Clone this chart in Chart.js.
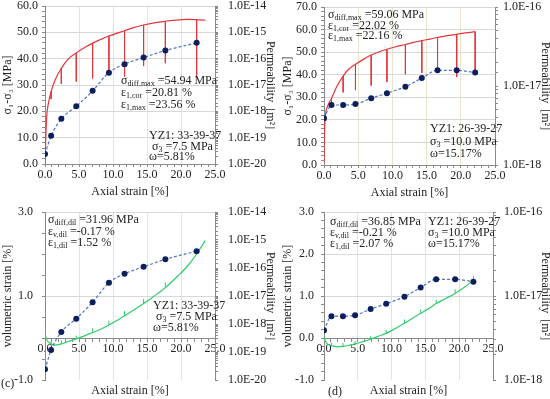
<!DOCTYPE html>
<html>
<head>
<meta charset="utf-8">
<script src="https://cdn.jsdelivr.net/npm/chart.js@4"></script>
<style>
body { margin: 0; background: #fff; }
#wrap { position: relative; width: 550px; height: 399px; font-family: 'Liberation Serif', 'Times New Roman', serif; color: #222; overflow: hidden; }
canvas { position: absolute; }
.note { position: absolute; font-size: 12px; line-height: 11.5px; white-space: nowrap; }
.note sub { font-size: 8px; vertical-align: -2px; line-height: 0; }
</style>
</head>
<body>
<div id="wrap">
  <canvas id="ca" width="275" height="200" style="left:0;top:0"></canvas>
  <canvas id="cb" width="275" height="200" style="left:275px;top:0"></canvas>
  <canvas id="cc" width="275" height="199" style="left:0;top:200px"></canvas>
  <canvas id="cd" width="275" height="199" style="left:275px;top:200px"></canvas>

  <div class="note" style="left:121px;top:74px;line-height:12px">σ<sub>diff,max</sub> =54.94 MPa<br>ε<sub>1,cor</sub> =20.81 %<br>ε<sub>1,max</sub> =23.56 %</div>
  <div class="note" style="left:149px;top:130px;line-height:10.5px">YZ1: 33-39-37<br>&nbsp;σ<sub>3</sub> =7.5 MPa<br>ω=5.81%</div>

  <div class="note" style="left:328px;top:9px;line-height:10.5px">σ<sub>diff,max</sub> =59.06 MPa<br>ε<sub>1,cor</sub> =22.02 %<br>ε<sub>1,max</sub> =22.16 %</div>
  <div class="note" style="left:430px;top:122px;line-height:12.5px">YZ1: 26-39-27<br>σ<sub>3</sub> =10.0 MPa<br>ω=15.17%</div>

  <div class="note" style="left:48px;top:214px">σ<sub>diff,dil</sub> =31.96 MPa<br>ε<sub>v,dil</sub> =-0.17 %<br>ε<sub>1,dil</sub> =1.52 %</div>
  <div class="note" style="left:153px;top:300px;line-height:11px">YZ1: 33-39-37<br>&nbsp;σ<sub>3</sub> =7.5 MPa<br>ω=5.81%</div>

  <div class="note" style="left:330px;top:216px;line-height:11px">σ<sub>diff,dil</sub> =36.85 MPa<br>ε<sub>v,dil</sub> =-0.21 %<br>ε<sub>1,dil</sub> =2.07 %</div>
  <div class="note" style="left:428px;top:216px;line-height:11px">YZ1: 26-39-27<br>σ<sub>3</sub> =10.0 MPa<br>ω=15.17%</div>

  <div class="note" style="left:1px;top:378px">(c)</div>
  <div class="note" style="left:328px;top:386px">(d)</div>
</div>

<script>
// Sample YZ1: 33-39-37 (panels a, c)
const permStrainA = [0, 0.9, 2.4, 4.6, 7.0, 9.4, 11.7, 14.5, 17.7, 22.3];
const permA = [2.4e-20, 1.17e-19, 5.2e-19, 1.55e-18, 6.0e-18, 2.95e-17, 6.2e-17, 1.1e-16, 2.04e-16, 3.98e-16];
const stressStrainA = [0, 0.1, 0.25, 0.5, 0.9, 1.5, 2.4, 3.4, 4.6, 5.9, 7.0, 8.2, 9.4, 10.5, 11.7, 13.0, 14.5, 16.0, 17.7, 19.2, 20.8, 22.3, 23.56];
const stressA = [0.4, 9, 18, 23, 27.5, 32, 36.3, 39.8, 42.2, 44.3, 45.9, 47.3, 48.6, 49.6, 50.6, 51.8, 52.8, 53.6, 54.2, 54.6, 54.94, 54.8, 54.6];
const dropStrainA = [0.9, 2.4, 4.6, 7.0, 9.4, 11.7, 14.5, 17.7, 22.3];
const dropStressA = [24.7, 30.4, 31.3, 32.5, 34.5, 33.2, 37.2, 38.3, 33.5];
const volStrainC = [0, 0.2, 0.5, 0.9, 1.5, 2.4, 3.5, 4.6, 5.8, 7.0, 8.2, 9.4, 10.5, 11.7, 13.0, 14.5, 16.0, 17.7, 19.5, 21.0, 22.3, 23.56];
const volC = [0.1, -0.02, -0.1, -0.14, -0.17, -0.14, -0.08, -0.02, 0.05, 0.13, 0.21, 0.31, 0.41, 0.53, 0.66, 0.82, 0.99, 1.2, 1.47, 1.72, 2.0, 2.32];
const volTickC = [-0.07, -0.05, 0.06, 0.23, 0.41, 0.64, 0.93, 1.32, 2.06];

// Sample YZ1: 26-39-27 (panels b, d)
const permStrainB = [0, 1.1, 2.8, 4.6, 6.9, 9.2, 11.9, 14.3, 16.6, 19.4, 22.1];
const permB = [3.9e-18, 5.75e-18, 5.75e-18, 5.9e-18, 7.0e-18, 8.1e-18, 9.8e-18, 1.26e-17, 1.58e-17, 1.58e-17, 1.48e-17];
const stressStrainB = [0, 0.05, 0.2, 0.5, 1.1, 1.85, 2.8, 3.6, 4.6, 5.75, 6.9, 8.1, 9.2, 10.5, 11.9, 13.1, 14.3, 15.5, 16.6, 18.0, 19.4, 20.7, 22.1];
const stressB = [0.75, 11, 21.4, 25.8, 29.5, 34.7, 39.4, 42.4, 44.6, 46.8, 48.7, 50.2, 51.3, 52.4, 53.4, 54.3, 55.1, 55.8, 56.5, 57.3, 57.9, 58.5, 59.06];
const dropStrainB = [1.1, 2.8, 4.6, 6.9, 9.2, 11.9, 14.3, 16.6, 19.4, 22.1];
const dropStressB = [27.3, 32.2, 33.2, 35.2, 36.8, 40.2, 40.8, 41.7, 39.0, 40.8];
const volStrainD = [0, 0.3, 0.7, 1.1, 2.0, 2.8, 3.8, 4.6, 5.7, 6.9, 8.0, 9.2, 10.5, 11.9, 13.1, 14.3, 15.5, 16.6, 18.0, 19.4, 20.7, 22.1];
const volD = [0.02, -0.1, -0.16, -0.18, -0.21, -0.2, -0.17, -0.14, -0.09, -0.03, 0.04, 0.11, 0.22, 0.35, 0.47, 0.59, 0.7, 0.82, 0.94, 1.06, 1.2, 1.38];
const volTickD = [-0.11, -0.12, -0.07, 0.05, 0.19, 0.44, 0.68, 0.91, 1.16, 1.47];

const RED = '#e3363b';
const GREEN = '#2ccb68';
const BLUE_LINE = '#5073c6';
const BLUE_DOT = '#0c1f5c';
const AXIS = '#8a8a8a';
const GRIDH = '#d8d8d8';
const GRIDV = '#ebe4cc';
const NONE = 'rgba(0,0,0,0)';

Chart.defaults.font.family = "'Liberation Serif', 'Times New Roman', serif";
Chart.defaults.font.size = 12;
Chart.defaults.color = '#222';

function isMult(v, step) {
    const r = v / step;
    return Math.abs(r - Math.round(r)) < 1e-6;
}

function logLabel(v) {
    const l = Math.log10(v);
    const e = Math.round(l);
    return Math.abs(l - e) < 1e-6 ? '1.0E' + e : '';
}

function pts(xs, ys) {
    return xs.map((x, i) => ({ x: x, y: ys[i] }));
}

// short vertical strokes from the curve to an end value (stress drops / volume ticks)
function strokes(curveX, curveY, atX, ends) {
    const out = [];
    atX.forEach((x, i) => {
        const k = curveX.indexOf(x);
        out.push({ x: x, y: curveY[k] }, { x: x, y: ends[i] }, { x: x, y: null });
    });
    return out;
}

// vertical axes: fixed width, no extra label padding so the plot box sits where the layout puts it
function fixWidth(w) {
    return s => { s.width = w; s.paddingTop = 0; s.paddingBottom = 0; };
}

function xAxis(extra) {
    return Object.assign({
        type: 'linear', min: 0, max: 25,
        ticks: { stepSize: 1, autoSkip: false, maxRotation: 0, padding: 1,
                 callback: v => isMult(v, 5) ? v.toFixed(1) : '' },
        grid: { color: c => (isMult(c.tick.value, 5) && c.tick.value > 0 && c.tick.value < 25) ? GRIDV : NONE,
                tickColor: AXIS, tickLength: 3 },
        border: { color: AXIS }
    }, extra);
}

function leftAxis(o) {
    return {
        type: 'linear', position: 'left', min: o.min, max: o.max,
        ticks: { stepSize: o.minor, autoSkip: false, padding: o.pad,
                 callback: v => isMult(v - o.min, o.major) ? v.toFixed(1) : '' },
        grid: { color: c => (isMult(c.tick.value - o.min, o.major) && c.tick.value > o.min) ? GRIDH : NONE,
                tickColor: AXIS, tickLength: 3 },
        border: { color: AXIS },
        title: { display: true, text: o.title, padding: { top: o.titlePad, bottom: 0 } },
        afterFit: fixWidth(o.width)
    };
}

function rightAxis(o) {
    return {
        type: 'logarithmic', position: 'right', min: o.min, max: o.max,
        ticks: { autoSkip: false, padding: o.pad, callback: logLabel },
        grid: { drawOnChartArea: false, color: AXIS, tickLength: 3 },
        border: { color: AXIS },
        title: { display: true, text: 'Permeability  [m²]', padding: { top: -2, bottom: 0 } },
        afterFit: fixWidth(o.width)
    };
}

function permSet(xs, ys) {
    return {
        data: pts(xs, ys), xAxisID: 'x', yAxisID: 'y2',
        borderColor: BLUE_LINE, borderWidth: 1.2, borderDash: [3, 2],
        pointRadius: 3, pointBackgroundColor: BLUE_DOT, pointBorderColor: BLUE_DOT, pointBorderWidth: 0,
        cubicInterpolationMode: 'monotone'
    };
}

function curveSet(xs, ys, color) {
    return {
        data: pts(xs, ys), xAxisID: 'x', yAxisID: 'y',
        borderColor: color, borderWidth: 1.2, pointRadius: 0,
        cubicInterpolationMode: 'monotone'
    };
}

function strokeSet(data, color) {
    return {
        data: data, xAxisID: 'x', yAxisID: 'y',
        borderColor: color, borderWidth: 1, pointRadius: 0, spanGaps: false, tension: 0
    };
}

function bottomTitle() {
    return {
        type: 'linear', position: 'bottom', min: 0, max: 25,
        ticks: { display: false }, grid: { display: false }, border: { display: false },
        title: { display: true, text: 'Axial strain [%]', padding: { top: 0, bottom: 1 } },
        afterFit: s => { s.height = 19; }
    };
}

function panel(id, top, datasets, scales) {
    new Chart(document.getElementById(id), {
        type: 'line',
        data: { datasets: datasets },
        options: {
            responsive: false,
            animation: false,
            layout: { padding: { top: top, left: 0, right: 0, bottom: 0 } },
            plugins: { legend: { display: false }, tooltip: { enabled: false } },
            scales: scales
        }
    });
}

// (a) stress + permeability
panel('ca', 6, [
    permSet(permStrainA, permA),
    curveSet(stressStrainA, stressA, RED),
    strokeSet(strokes(stressStrainA, stressA, dropStrainA, dropStressA), RED)
], {
    x: xAxis({ title: { display: true, text: 'Axial strain [%]', padding: { top: 0, bottom: 1 } },
               afterFit: s => { s.height = 36; } }),
    y: leftAxis({ min: 0, max: 60, minor: 2, major: 10, pad: 4, width: 45, titlePad: 1, title: 'σ₁-σ₃ [MPa]' }),
    y2: rightAxis({ min: 1e-20, max: 1e-14, pad: 10, width: 60 })
});

// (b) stress + permeability
panel('cb', 7, [
    permSet(permStrainB, permB),
    curveSet(stressStrainB, stressB, RED),
    strokeSet(strokes(stressStrainB, stressB, dropStrainB, dropStressB), RED)
], {
    x: xAxis({ title: { display: true, text: 'Axial strain [%]', padding: { top: 0, bottom: 0 } },
               afterFit: s => { s.height = 35; } }),
    y: leftAxis({ min: 0, max: 70, minor: 2, major: 10, pad: 4, width: 49, titlePad: 6, title: 'σ₁-σ₃ [MPa]' }),
    y2: rightAxis({ min: 1e-18, max: 1e-16, pad: 5, width: 55 })
});

// (c) volumetric strain + permeability
panel('cc', 12, [
    permSet(permStrainA, permA),
    curveSet(volStrainC, volC, GREEN),
    strokeSet(strokes(volStrainC, volC, dropStrainA, volTickC), GREEN)
], {
    x: xAxis({ position: { y: 0 } }),
    xt: bottomTitle(),
    y: leftAxis({ min: -1, max: 3, minor: 0.5, major: 2, pad: 9, width: 45, titlePad: 1, title: 'volumetric strain [%]' }),
    y2: rightAxis({ min: 1e-20, max: 1e-14, pad: 10, width: 60 })
});

// (d) volumetric strain + permeability
panel('cd', 12, [
    permSet(permStrainB, permB),
    curveSet(volStrainD, volD, GREEN),
    strokeSet(strokes(volStrainD, volD, dropStrainB, volTickD), GREEN)
], {
    x: xAxis({ position: { y: 0 } }),
    xt: bottomTitle(),
    y: leftAxis({ min: -1, max: 3, minor: 0.2, major: 1, pad: 7, width: 49, titlePad: 6, title: 'volumetric strain [%]' }),
    y2: rightAxis({ min: 1e-18, max: 1e-16, pad: 8, width: 57 })
});
</script>
</body>
</html>
